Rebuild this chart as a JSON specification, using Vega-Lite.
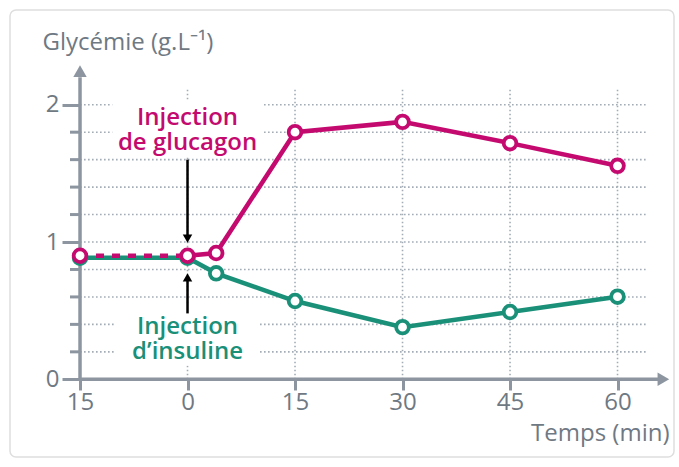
{
  "$schema": "https://vega.github.io/schema/vega-lite/v6.json",
  "width": 664,
  "height": 447,
  "autosize": {"type": "none"},
  "padding": {"left": 10, "top": 10, "right": 5, "bottom": 10},
  "background": "white",
  "config": {
    "view": {"stroke": "#dedede", "strokeWidth": 1.5, "cornerRadius": 6},
    "font": "Open Sans",
    "axisX": {"tickSize": 11, "tickWidth": 3},
    "axisY": {"tickSize": 18, "tickWidth": 3}
  },
  "resolve": {"axis": {"x": "independent", "y": "independent"}},
  "datasets": {
    "series": [
      {"t": -15, "v": 0.885, "s": "insuline"},
      {"t": 0, "v": 0.885, "s": "insuline"},
      {"t": 4, "v": 0.772, "s": "insuline"},
      {"t": 15, "v": 0.57, "s": "insuline"},
      {"t": 30, "v": 0.38, "s": "insuline"},
      {"t": 45, "v": 0.49, "s": "insuline"},
      {"t": 60, "v": 0.602, "s": "insuline"},
      {"t": -15, "v": 0.9, "s": "glucagon"},
      {"t": 0, "v": 0.9, "s": "glucagon"},
      {"t": 4, "v": 0.92, "s": "glucagon"},
      {"t": 15, "v": 1.8, "s": "glucagon"},
      {"t": 30, "v": 1.875, "s": "glucagon"},
      {"t": 45, "v": 1.72, "s": "glucagon"},
      {"t": 60, "v": 1.555, "s": "glucagon"}
    ],
    "hgrid": [{"y": 0.2}, {"y": 0.4}, {"y": 0.6}, {"y": 0.8}, {"y": 1.0}, {"y": 1.2}, {"y": 1.4}, {"y": 1.6}, {"y": 1.8}, {"y": 2.0}],
    "minor": [{"y": 0.2}, {"y": 0.4}, {"y": 0.6}, {"y": 0.8}, {"y": 1.2}, {"y": 1.4}, {"y": 1.6}, {"y": 1.8}],
    "vgrid": [{"x": 0}, {"x": 15}, {"x": 30}, {"x": 45}, {"x": 60}],
    "one": [{}]
  },
  "layer": [
    {
      "data": {"name": "series"},
      "mark": {"type": "point", "opacity": 0},
      "encoding": {
        "x": {"field": "t", "type": "quantitative",
          "scale": {"domain": [-24.77, 67.88], "nice": false, "zero": false},
          "axis": {
            "orient": "bottom", "offset": -78, "values": [-15, 0, 15, 30, 45, 60],
            "labelExpr": "'' + abs(datum.value)", "domain": false, "grid": false,
            "tickSize": 11, "tickWidth": 3, "tickColor": "#8d96a0",
            "labelFontSize": 24, "labelFontWeight": 500, "labelColor": "#6f7983", "labelPadding": 0, "labelFont": "Open Sans",
            "title": "Temps (min)", "titleX": 659, "titleY": 54, "titleAlign": "right",
            "titleBaseline": "middle", "titleFontSize": 24, "titleFontWeight": 500, "titleColor": "#6f7983", "titleFont": "Open Sans"
          }},
        "y": {"field": "v", "type": "quantitative",
          "scale": {"domain": [-0.566, 2.69], "nice": false, "zero": false},
          "axis": {
            "orient": "left", "offset": -70, "values": [0, 1, 2],
            "domain": false, "grid": false,
            "tickSize": 18, "tickWidth": 3, "tickColor": "#8d96a0",
            "labelFontSize": 24, "labelFontWeight": 500, "labelColor": "#6f7983", "labelPadding": 3, "labelFont": "Open Sans",
            "title": "Glycémie (g.L⁻¹)", "titleAngle": 0, "titleX": -38, "titleY": 32, "titleAlign": "left",
            "titleBaseline": "middle", "titleFontSize": 24, "titleFontWeight": 500, "titleColor": "#6f7983", "titleFont": "Open Sans"
          }}
      }
    },
    {
      "data": {"name": "hgrid"},
      "mark": {"type": "rule", "color": "#a3acb5", "strokeWidth": 1.6, "strokeDash": [1.6, 2.4]},
      "encoding": {
        "x": {"datum": -15, "type": "quantitative", "axis": null},
        "x2": {"datum": 64.1},
        "y": {"field": "y", "type": "quantitative", "axis": null}
      }
    },
    {
      "data": {"name": "minor"},
      "mark": {"type": "rule", "color": "#8d96a0", "strokeWidth": 3},
      "encoding": {
        "x": {"datum": -16.4, "type": "quantitative", "axis": null},
        "x2": {"datum": -15},
        "y": {"field": "y", "type": "quantitative", "axis": null}
      }
    },
    {
      "data": {"name": "vgrid"},
      "mark": {"type": "rule", "color": "#a3acb5", "strokeWidth": 1.6, "strokeDash": [1.6, 2.4]},
      "encoding": {
        "x": {"field": "x", "type": "quantitative", "axis": null},
        "y": {"datum": 0, "type": "quantitative", "axis": null},
        "y2": {"datum": 2.12}
      }
    },
    {
      "data": {"name": "one"},
      "mark": {"type": "rect", "fill": "white"},
      "encoding": {
        "x": {"datum": -10.5, "type": "quantitative", "axis": null},
        "x2": {"datum": 10.5},
        "y": {"datum": 2.03, "type": "quantitative", "axis": null},
        "y2": {"datum": 1.62}
      }
    },
    {
      "data": {"name": "one"},
      "mark": {"type": "rect", "fill": "white"},
      "encoding": {
        "x": {"datum": -10, "type": "quantitative", "axis": null},
        "x2": {"datum": 10},
        "y": {"datum": 0.55, "type": "quantitative", "axis": null},
        "y2": {"datum": 0.1}
      }
    },
    {
      "data": {"name": "one"},
      "mark": {"type": "rule", "color": "#8d96a0", "strokeWidth": 3.5},
      "encoding": {
        "x": {"datum": -15, "type": "quantitative", "axis": null},
        "x2": {"datum": 66},
        "y": {"datum": 0, "type": "quantitative", "axis": null}
      }
    },
    {
      "data": {"name": "one"},
      "mark": {"type": "rule", "color": "#8d96a0", "strokeWidth": 3.5},
      "encoding": {
        "x": {"datum": -15, "type": "quantitative", "axis": null},
        "y": {"datum": 0, "type": "quantitative", "axis": null},
        "y2": {"datum": 2.2}
      }
    },
    {
      "data": {"name": "one"},
      "mark": {"type": "point", "shape": "triangle-right", "filled": true, "color": "#8d96a0", "size": 180, "opacity": 1},
      "encoding": {
        "x": {"datum": 66.4, "type": "quantitative", "axis": null},
        "y": {"datum": 0, "type": "quantitative", "axis": null}
      }
    },
    {
      "data": {"name": "one"},
      "mark": {"type": "point", "shape": "triangle-up", "filled": true, "color": "#8d96a0", "size": 180, "opacity": 1},
      "encoding": {
        "x": {"datum": -15, "type": "quantitative", "axis": null},
        "y": {"datum": 2.245, "type": "quantitative", "axis": null}
      }
    },
    {
      "data": {"name": "series"},
      "transform": [{"filter": "datum.s == 'insuline'"}],
      "mark": {"type": "line", "color": "#1a9079", "strokeWidth": 4.5},
      "encoding": {
        "x": {"field": "t", "type": "quantitative", "axis": null},
        "y": {"field": "v", "type": "quantitative", "axis": null}
      }
    },
    {
      "data": {"name": "series"},
      "transform": [{"filter": "datum.s == 'glucagon' && datum.t <= 0"}],
      "mark": {"type": "line", "color": "#c40a6f", "strokeWidth": 4.5, "strokeDash": [8, 8]},
      "encoding": {
        "x": {"field": "t", "type": "quantitative", "axis": null},
        "y": {"field": "v", "type": "quantitative", "axis": null}
      }
    },
    {
      "data": {"name": "series"},
      "transform": [{"filter": "datum.s == 'glucagon' && datum.t >= 0"}],
      "mark": {"type": "line", "color": "#c40a6f", "strokeWidth": 4.5},
      "encoding": {
        "x": {"field": "t", "type": "quantitative", "axis": null},
        "y": {"field": "v", "type": "quantitative", "axis": null}
      }
    },
    {
      "data": {"name": "series"},
      "mark": {"type": "point", "filled": true, "fill": "white", "strokeWidth": 3.8, "size": 160, "opacity": 1},
      "encoding": {
        "x": {"field": "t", "type": "quantitative", "axis": null},
        "y": {"field": "v", "type": "quantitative", "axis": null},
        "stroke": {"field": "s", "type": "nominal", "scale": {"domain": ["insuline", "glucagon"], "range": ["#1a9079", "#c40a6f"]}, "legend": null}
      }
    },
    {
      "data": {"name": "one"},
      "mark": {"type": "rule", "color": "black", "strokeWidth": 2.5},
      "encoding": {
        "x": {"datum": 0, "type": "quantitative", "axis": null},
        "y": {"datum": 1.6, "type": "quantitative", "axis": null},
        "y2": {"datum": 1.03}
      }
    },
    {
      "data": {"name": "one"},
      "mark": {"type": "point", "shape": "triangle-down", "filled": true, "color": "black", "size": 90, "opacity": 1},
      "encoding": {
        "x": {"datum": 0, "type": "quantitative", "axis": null},
        "y": {"datum": 1.024, "type": "quantitative", "axis": null}
      }
    },
    {
      "data": {"name": "one"},
      "mark": {"type": "rule", "color": "black", "strokeWidth": 2.5},
      "encoding": {
        "x": {"datum": 0, "type": "quantitative", "axis": null},
        "y": {"datum": 0.48, "type": "quantitative", "axis": null},
        "y2": {"datum": 0.75}
      }
    },
    {
      "data": {"name": "one"},
      "mark": {"type": "point", "shape": "triangle-up", "filled": true, "color": "black", "size": 90, "opacity": 1},
      "encoding": {
        "x": {"datum": 0, "type": "quantitative", "axis": null},
        "y": {"datum": 0.743, "type": "quantitative", "axis": null}
      }
    },
    {
      "data": {"values": [{"t": 0, "v": 1.9, "txt": "Injection\nde glucagon"}]},
      "mark": {"type": "text", "color": "#c40a6f", "fontSize": 24, "fontWeight": 600, "font": "Open Sans", "align": "center", "baseline": "middle", "lineBreak": "\n", "lineHeight": 25},
      "encoding": {
        "x": {"field": "t", "type": "quantitative", "axis": null},
        "y": {"field": "v", "type": "quantitative", "axis": null},
        "text": {"field": "txt"}
      }
    },
    {
      "data": {"values": [{"t": 0, "v": 0.381, "txt": "Injection\nd’insuline"}]},
      "mark": {"type": "text", "color": "#1a9079", "fontSize": 24, "fontWeight": 600, "font": "Open Sans", "align": "center", "baseline": "middle", "lineBreak": "\n", "lineHeight": 25},
      "encoding": {
        "x": {"field": "t", "type": "quantitative", "axis": null},
        "y": {"field": "v", "type": "quantitative", "axis": null},
        "text": {"field": "txt"}
      }
    }
  ]
}
